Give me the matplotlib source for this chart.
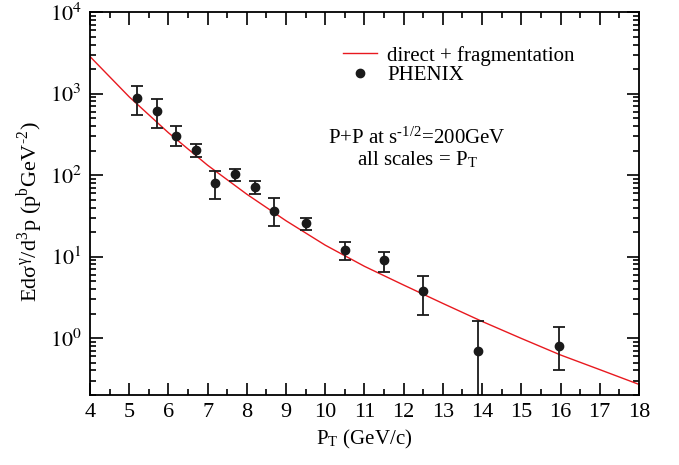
import matplotlib
matplotlib.use("Agg")
import matplotlib.pyplot as plt
import numpy as np
from matplotlib.ticker import LogLocator, MultipleLocator, FixedLocator
from matplotlib.lines import Line2D

plt.rcParams['font.family'] = ['Liberation Serif', 'DejaVu Serif']
plt.rcParams['mathtext.fontset'] = 'stix'

# Theory curve (direct + fragmentation)
curve_pt = [4, 5, 6, 7, 8, 9, 10, 11, 12, 13, 14, 15, 16, 17, 18]
curve_val = [2850, 912, 331, 132, 58.2, 27.5, 13.8, 7.59, 4.47, 2.66, 1.60, 0.99, 0.62, 0.41, 0.27]

# PHENIX data
data_pt = [5.2, 5.7, 6.2, 6.7, 7.2, 7.7, 8.2, 8.7, 9.5, 10.5, 11.5, 12.5, 13.9, 15.95]
data_val = [890, 620, 300, 203, 80, 103, 71, 36, 25.7, 12, 9.05, 3.8, 0.7, 0.8]
data_hi = [1250, 870, 400, 240, 112, 120, 85, 52, 30, 15, 11.5, 5.7, 1.6, 1.35]
data_lo = [550, 380, 225, 165, 51, 85, 58, 24, 21, 9, 6.5, 1.9, 0.01, 0.4]

x_ticks = list(range(4, 19))
y_ticks = [1, 10, 100, 1000, 10000]
y_labels = [r'$10^{0}$', r'$10^{1}$', r'$10^{2}$', r'$10^{3}$', r'$10^{4}$']

fig = plt.figure(figsize=(6.79, 4.65), dpi=100)
ax = fig.add_axes([0.1325, 0.1505, 0.8085, 0.8235])

red = '#e8191f'
dark = '#1a1a1a'
ax.plot(curve_pt, curve_val, color=red, lw=1.0)
yerr = [np.array(data_val) - np.array(data_lo), np.array(data_hi) - np.array(data_val)]
ax.errorbar(data_pt, data_val, yerr=yerr, fmt='o', color=dark, ms=6,
            capsize=4, elinewidth=1.3, capthick=1.3)

ax.set_yscale('log')
ax.set_xlim(4, 18)
ax.set_ylim(0.2, 1e4)
ax.xaxis.set_major_locator(FixedLocator(x_ticks))
ax.xaxis.set_minor_locator(MultipleLocator(0.5))
ax.yaxis.set_major_locator(FixedLocator(y_ticks))
ax.yaxis.set_minor_locator(LogLocator(base=10, subs=np.arange(2, 10), numticks=20))
ax.set_yticklabels(y_labels)
ax.tick_params(which='both', direction='in', top=True, right=True, labelsize=16, width=1.2)
ax.tick_params(which='major', length=9, pad=6)
ax.tick_params(which='minor', length=4)
for s in ax.spines.values():
    s.set_linewidth(1.3)

ax.set_xlabel(r'P$_{\mathregular{T}}$ (GeV/c)', fontsize=15)
ax.set_ylabel(r'Edσ$^{\mathregular{γ}}$/d$^{\mathregular{3}}$p (p$^{\mathregular{b}}$GeV$^{\mathregular{‐2}}$)',
              fontsize=16)
ax.yaxis.set_label_coords(-0.08, 0.478)

handles = [Line2D([], [], color=red, lw=1.0),
           Line2D([], [], ls='none', marker='o', color=dark, ms=6)]
ax.legend(handles, ['direct + fragmentation', 'PHENIX'], loc='upper left',
          bbox_to_anchor=(0.461, 0.912), frameon=False, fontsize=15,
          handlelength=1.63, handletextpad=0.48, labelspacing=0.0,
          borderpad=0.0, borderaxespad=0.0)
ax.text(0.596, 0.671, r'P+P at s$^{\mathregular{‐1/2}}$=200GeV', transform=ax.transAxes,
        fontsize=15, ha='center', va='center')
ax.text(0.596, 0.614, r'all scales = P$_{\mathregular{T}}$', transform=ax.transAxes,
        fontsize=15, ha='center', va='center')

fig.savefig('out.png', dpi=100)
